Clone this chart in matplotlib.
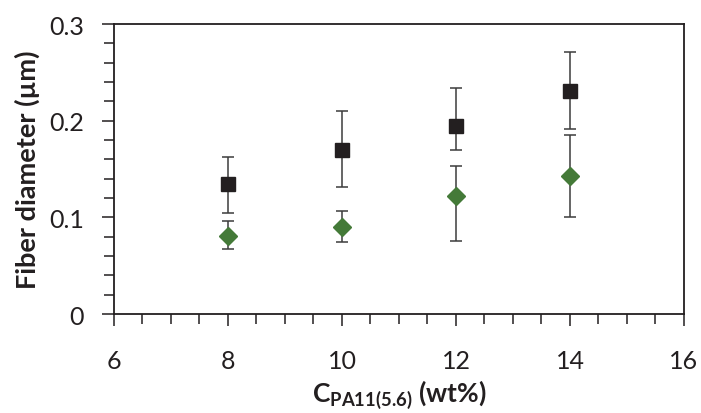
import matplotlib.pyplot as plt
from matplotlib.ticker import MultipleLocator

# data
conc = [8, 10, 12, 14]

black_mean = [0.134, 0.170, 0.194, 0.231]
black_low = [0.105, 0.131, 0.170, 0.191]
black_high = [0.162, 0.210, 0.234, 0.271]

green_mean = [0.081, 0.090, 0.122, 0.143]
green_low = [0.067, 0.075, 0.076, 0.100]
green_high = [0.096, 0.107, 0.153, 0.185]

ytick_labels = ['0', '0.1', '0.2', '0.3']

plt.rcParams['font.family'] = ['Lato', 'DejaVu Sans']
plt.rcParams['mathtext.fontset'] = 'custom'
plt.rcParams['mathtext.rm'] = 'Lato'
plt.rcParams['mathtext.bf'] = 'Lato:bold'

fig = plt.figure(figsize=(7.01, 4.14), dpi=100)
ax = fig.add_axes([0.1626, 0.2391, 0.8131, 0.7005])

black_err = [[m - l for m, l in zip(black_mean, black_low)],
             [h - m for m, h in zip(black_mean, black_high)]]
green_err = [[m - l for m, l in zip(green_mean, green_low)],
             [h - m for m, h in zip(green_mean, green_high)]]

ax.errorbar(conc, black_mean, yerr=black_err, fmt='s', color='#231f20',
            markersize=10, ecolor='#3c3c3c', elinewidth=1.1, capsize=4.6,
            capthick=1.1, zorder=3)
ax.errorbar(conc, green_mean, yerr=green_err, fmt='D', color='#447a38',
            markersize=9, ecolor='#3c3c3c', elinewidth=1.1, capsize=4.6,
            capthick=1.1, zorder=3)

ax.set_xlim(6, 16)
ax.set_ylim(0, 0.3)
ax.xaxis.set_major_locator(MultipleLocator(2))
ax.xaxis.set_minor_locator(MultipleLocator(0.5))
ax.set_yticks([0, 0.1, 0.2, 0.3])
ax.set_yticklabels(ytick_labels)
ax.yaxis.set_minor_locator(MultipleLocator(0.02))

ax.tick_params(which='both', direction='out', width=1.1, labelsize=18, colors='#231f20')
ax.tick_params(which='major', length=8.5)
ax.tick_params(which='minor', length=7)
ax.tick_params(axis='x', which='major', pad=17)
ax.tick_params(axis='y', which='major', pad=13)

for s in ax.spines.values():
    s.set_linewidth(1.3)
    s.set_color('#231f20')

ax.set_ylabel('Fiber diameter (µm)', fontsize=19.5, fontweight='bold', labelpad=7, color='#231f20')
ax.set_xlabel(r'C$_{\mathbf{PA11(5.6)}}$ (wt%)', fontsize=19, fontweight='bold', color='#231f20')
ax.xaxis.label.set_va('baseline')
ax.xaxis.set_label_coords(0.5, -0.303)

fig.savefig('out.png', dpi=100)
